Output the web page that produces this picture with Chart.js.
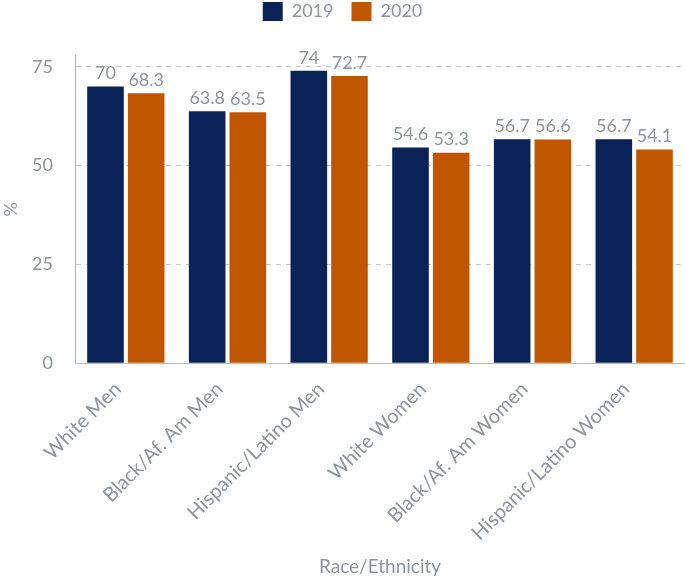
<!DOCTYPE html>
<html><head><meta charset="utf-8">
<script src="https://cdn.jsdelivr.net/npm/chart.js@4"></script>
<style>html,body{margin:0;padding:0;background:#fff}#w{width:685px;height:580px}</style>
</head><body><div id="w"><canvas id="c"></canvas></div>
<script>
const categories = ["White Men","Black/Af. Am Men","Hispanic/Latino Men","White Women","Black/Af. Am Women","Hispanic/Latino Women"];
const values2019 = [70,63.8,74,54.6,56.7,56.7];
const values2020 = [68.3,63.5,72.7,53.3,56.6,54.1];
const yTicks = [0,25,50,75];
const grey = '#8d949c';
Chart.defaults.font.family = 'Lato';
const labelPlugin = {
  id:'vals',
  afterDatasetsDraw(chart){
    const ctx = chart.ctx;
    ctx.save();
    ctx.font = '18px Lato';
    ctx.fillStyle = grey;
    ctx.textAlign='center';
    ctx.textBaseline='bottom';
    chart.data.datasets.forEach((ds,i)=>{
      chart.getDatasetMeta(i).data.forEach((bar,j)=>{
        ctx.fillText(String(ds.data[j]), bar.x, bar.y-4);
      });
    });
    ctx.restore();
  }
};
const legendSpace = {
  id:'legendSpace',
  beforeInit(chart){
    const orig = chart.legend.fit;
    chart.legend.fit = function(){ orig.bind(chart.legend)(); this.height += 24; };
  }
};
new Chart(document.getElementById('c'),{
  type:'bar',
  data:{labels:categories,datasets:[
    {label:'2019',data:values2019,backgroundColor:'#0b2259'},
    {label:'2020',data:values2020,backgroundColor:'#c05600'}
  ]},
  options:{
    responsive:true,maintainAspectRatio:false,animation:false,
    layout:{padding:{top:-16,right:0,left:0,bottom:0}},
    plugins:{
      legend:{labels:{boxWidth:20,boxHeight:19,color:grey,font:{size:18},padding:18}},
      tooltip:{enabled:false}
    },
    scales:{
      x:{
        grid:{display:false},
        border:{color:'#b8bcc2'},
        ticks:{color:grey,font:{size:20},maxRotation:45,minRotation:45,padding:6,labelOffset:-8},
        title:{display:true,text:'Race/Ethnicity',color:grey,font:{size:19},padding:{top:4,bottom:2}}
      },
      y:{
        min:0,max:78,
        afterBuildTicks(s){s.ticks=yTicks.map(v=>({value:v}));},
        afterFit(s){s.width=75;},
        grid:{color:'#c4c8cc',drawTicks:false},
        border:{display:true,color:'#a9aeb4',dash:[5,5]},
        ticks:{color:grey,font:{size:18},padding:22},
        title:{display:true,text:'%',color:grey,font:{size:18},padding:0}
      }
    }
  },
  plugins:[labelPlugin,legendSpace]
});
</script></body></html>
